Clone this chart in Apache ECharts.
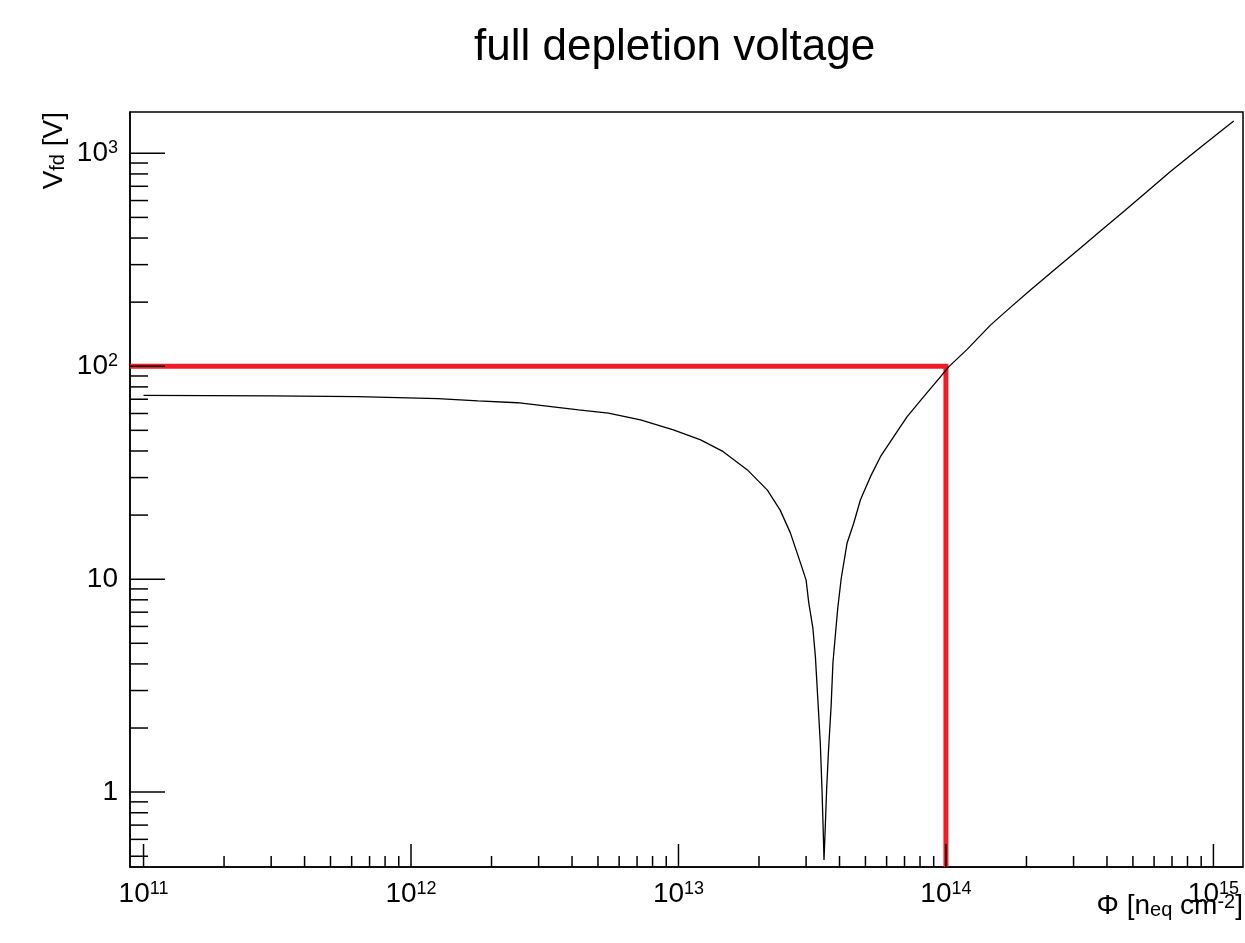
<!DOCTYPE html>
<html><head><meta charset="utf-8">
<script src="https://cdn.jsdelivr.net/npm/echarts@6/dist/echarts.min.js"></script>
<style>html,body{margin:0;padding:0;background:#fff}#c{width:1245px;height:943px}</style>
</head><body><div id="c"></div>
<script>
// ---- data ----
const titleText = 'full depletion voltage';
const phi = [1e11, 3e11, 6.3e11, 1.26e12, 1.78e12, 2.5e12, 3.05e12, 4.23e12, 5.47e12, 7.21e12, 9.57e12,
  1.21e13, 1.47e13, 1.81e13, 2.15e13, 2.40e13, 2.62e13, 2.86e13, 3.00e13, 3.07e13, 3.18e13, 3.25e13,
  3.32e13, 3.39e13, 3.44e13, 3.48e13, 3.50e13, 3.53e13, 3.58e13, 3.64e13, 3.72e13, 3.78e13, 3.86e13,
  3.94e13, 4.06e13, 4.27e13, 4.52e13, 4.79e13, 5.22e13, 5.69e13, 6.38e13, 7.16e13, 8.26e13,
  9.55e13, 1.026e14, 1.20e14, 1.467e14, 1.742e14, 2.07e14, 2.604e14, 3.183e14, 3.781e14,
  4.62e14, 5.652e14, 6.908e14, 8.694e14, 1.062e15, 1.191e15];
const vfd = [73.0, 72.6, 72.0, 70.4, 68.8, 67.4, 65.5, 62.4, 60.2, 56.0, 50.2,
  45.1, 39.7, 32.6, 26.2, 21.1, 16.5, 11.9, 9.9, 7.74, 5.9, 4.33,
  2.71, 1.70, 1.03, 0.63, 0.48, 0.63, 1.03, 1.58, 2.52, 4.05, 5.47,
  7.31, 10.1, 14.8, 18.3, 23.6, 30.3, 37.6, 46.7, 58.0, 72.0,
  89.4, 99.6, 120, 156, 189, 228, 291, 359, 432,
  533, 662, 822, 1036, 1265, 1418];
const X_MIN = 8.9e10, X_MAX = 1.29e15;
const Y_MIN = 0.445, Y_MAX = 1563;
const refPhi = [X_MIN, 1e14, 1e14];
const refV = [100, 100, Y_MIN];
const xMajorTicks = [1e11, 1e12, 1e13, 1e14, 1e15];
const xMinorTicks = [2e11,3e11,4e11,5e11,6e11,7e11,8e11,9e11,
  2e12,3e12,4e12,5e12,6e12,7e12,8e12,9e12,
  2e13,3e13,4e13,5e13,6e13,7e13,8e13,9e13,
  2e14,3e14,4e14,5e14,6e14,7e14,8e14,9e14];
const yMajorTicks = [1, 10, 100, 1000];
const yMinorTicks = [0.5,0.6,0.7,0.8,0.9, 2,3,4,5,6,7,8,9, 20,30,40,50,60,70,80,90, 200,300,400,500,600,700,800,900];

const FONT = '"Liberation Sans", Arial, Helvetica, sans-serif';

function expLabel(v) {
  const e = Math.round(Math.log10(v));
  if (e === 0) return '{b|1}';
  if (e === 1) return '{b|10}';
  return '{b|10}{s|' + e + '}';
}
const labelRich = {
  b: {fontFamily: FONT, fontSize: 28, lineHeight: 28, color: '#000', verticalAlign: 'bottom'},
  s: {fontFamily: FONT, fontSize: 18, lineHeight: 18, color: '#000', verticalAlign: 'top'}
};
const nameRich = {
  t: {fontFamily: FONT, fontSize: 28, lineHeight: 28, color: '#000', verticalAlign: 'middle'},
  sub: {fontFamily: FONT, fontSize: 20, lineHeight: 20, color: '#000', verticalAlign: 'bottom'},
  sup: {fontFamily: FONT, fontSize: 20, lineHeight: 20, color: '#000', verticalAlign: 'top'}
};

function xTicks(ticks, len) {
  return {
    type: 'custom', coordinateSystem: 'cartesian2d', silent: true, clip: false, z: 5,
    data: ticks.map(v => [v, Y_MIN]),
    renderItem(params, api) {
      const p = api.coord([api.value(0), api.value(1)]);
      return {type: 'line', shape: {x1: p[0], y1: p[1], x2: p[0], y2: p[1] - len},
        style: {stroke: '#000', lineWidth: 1.5}};
    }
  };
}
function yTicks(ticks, len) {
  return {
    type: 'custom', coordinateSystem: 'cartesian2d', silent: true, clip: false, z: 5,
    data: ticks.map(v => [X_MIN, v]),
    renderItem(params, api) {
      const p = api.coord([api.value(0), api.value(1)]);
      return {type: 'line', shape: {x1: p[0], y1: p[1], x2: p[0] + len, y2: p[1]},
        style: {stroke: '#000', lineWidth: 1.5}};
    }
  };
}

const chart = echarts.init(document.getElementById('c'), null, {renderer: 'canvas'});
chart.setOption({
  animation: false,
  backgroundColor: '#fff',
  title: {
    text: titleText, left: 474, top: 26, padding: 0,
    textStyle: {fontFamily: FONT, fontSize: 44, fontWeight: 'normal', color: '#000'}
  },
  grid: {left: 130, right: 2, top: 112, bottom: 76, show: true, borderColor: '#000', borderWidth: 1.5,
    containLabel: false, outerBoundsMode: 'none'},
  xAxis: {
    type: 'log', min: X_MIN, max: X_MAX, logBase: 10,
    name: '{t|Φ [n}{sub|eq}{t| cm}{sup|-2}{t|]}',
    nameLocation: 'end', nameGap: 0, nameMoveOverlap: false,
    nameTextStyle: {align: 'right', verticalAlign: 'top', lineHeight: 44, padding: [25, 0, 0, 0], rich: nameRich},
    axisLine: {show: true, onZero: false, lineStyle: {color: '#000', width: 1.5}},
    axisTick: {show: false},
    splitLine: {show: false},
    minorTick: {show: false},
    axisLabel: {showMinLabel: false, showMaxLabel: false, margin: 13, formatter: expLabel, rich: labelRich,
      lineHeight: 33, hideOverlap: false}
  },
  yAxis: {
    type: 'log', min: Y_MIN, max: Y_MAX, logBase: 10,
    name: '{t|V}{sub|fd}{t| [V]}',
    nameLocation: 'end', nameGap: 0, nameRotate: 90, nameMoveOverlap: false,
    nameTextStyle: {align: 'right', verticalAlign: 'bottom', lineHeight: 44, padding: [0, 0, 62, 0], rich: nameRich},
    axisLine: {show: true, onZero: false, lineStyle: {color: '#000', width: 1.5}},
    axisTick: {show: false},
    splitLine: {show: false},
    minorTick: {show: false},
    axisLabel: {showMinLabel: false, showMaxLabel: false, margin: 12, formatter: expLabel, rich: labelRich,
      lineHeight: 33, hideOverlap: false}
  },
  series: [
    xTicks(xMajorTicks, 23), xTicks(xMinorTicks, 11),
    yTicks(yMajorTicks, 35), yTicks(yMinorTicks, 18),
    {
      type: 'line', name: 'reference', data: refPhi.map((x, i) => [x, refV[i]]),
      showSymbol: false, symbol: 'none', silent: true, z: 3,
      lineStyle: {color: '#ee1c25', width: 5, cap: 'butt', join: 'miter'}
    },
    {
      type: 'line', name: 'Vfd', data: phi.map((x, i) => [x, vfd[i]]),
      showSymbol: false, symbol: 'none', silent: true, z: 4,
      lineStyle: {color: '#000', width: 1.3}
    }
  ]
});
</script></body></html>
